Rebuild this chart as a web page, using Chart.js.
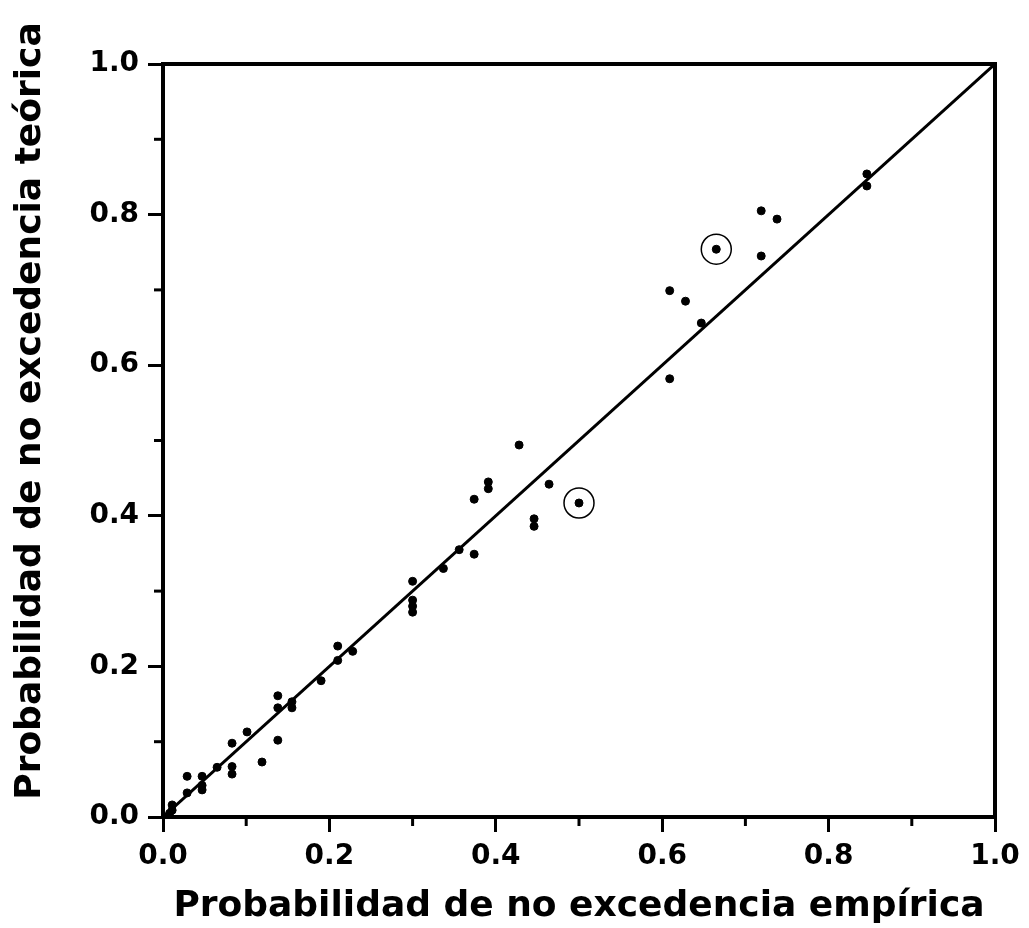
<!DOCTYPE html>
<html>
<head>
<meta charset="utf-8">
<script src="https://cdn.jsdelivr.net/npm/chart.js@4/dist/chart.umd.min.js"></script>
<style>
  html, body { margin: 0; padding: 0; background: #fff; }
  #wrap { width: 1029px; height: 928px; }
</style>
</head>
<body>
<div id="wrap"><canvas id="qqChart" width="1029" height="928"></canvas></div>
<script>
// empirical vs theoretical non-exceedance probability
var empirica = [0.008, 0.011, 0.011, 0.029, 0.029, 0.047, 0.047, 0.047, 0.065, 0.083, 0.083, 0.083,
                0.101, 0.119, 0.138, 0.138, 0.138, 0.155, 0.155, 0.190, 0.210, 0.210, 0.228,
                0.300, 0.300, 0.300, 0.300, 0.337, 0.356, 0.374, 0.374, 0.391, 0.391, 0.428,
                0.446, 0.446, 0.464, 0.500, 0.609, 0.609, 0.628, 0.647, 0.665, 0.719, 0.719,
                0.738, 0.846, 0.846];
var teorica  = [0.005, 0.009, 0.016, 0.032, 0.054, 0.036, 0.042, 0.054, 0.066, 0.057, 0.067, 0.098,
                0.113, 0.073, 0.102, 0.145, 0.161, 0.145, 0.153, 0.181, 0.208, 0.227, 0.220,
                0.272, 0.280, 0.288, 0.313, 0.330, 0.355, 0.349, 0.422, 0.436, 0.445, 0.494,
                0.386, 0.396, 0.442, 0.417, 0.582, 0.699, 0.685, 0.656, 0.754, 0.745, 0.805,
                0.794, 0.838, 0.854];
// the two points marked with a ring
var marcadosX = [0.500, 0.665];
var marcadosY = [0.417, 0.754];
var lineaX = [0, 1];
var lineaY = [0, 1];
var tickLabels = ["0.0", "0.2", "0.4", "0.6", "0.8", "1.0"];

function pares(xs, ys) {
  return xs.map(function (x, i) { return { x: x, y: ys[i] }; });
}

var fuente = "'DejaVu Sans', Verdana, sans-serif";
var tituloY = "Probabilidad de no excedencia teórica";

function esMayor(v) {
  return Math.abs(Math.round(v * 10) % 2) === 0;
}

// box frame, minor ticks and the y title
var marco = {
  id: "marco",
  afterDraw: function (chart) {
    var ctx = chart.ctx;
    var a = chart.chartArea;
    ctx.save();
    ctx.strokeStyle = "#000";
    ctx.lineWidth = 4;
    ctx.strokeRect(a.left, a.top, a.right - a.left, a.bottom - a.top);
    // minor ticks
    ctx.lineWidth = 3;
    var xs = chart.scales.x, ys = chart.scales.y;
    for (var i = 1; i < 10; i += 2) {
      var px = xs.getPixelForValue(i / 10);
      ctx.beginPath(); ctx.moveTo(px, a.bottom); ctx.lineTo(px, a.bottom + 9); ctx.stroke();
      var py = ys.getPixelForValue(i / 10);
      ctx.beginPath(); ctx.moveTo(a.left, py); ctx.lineTo(a.left - 9, py); ctx.stroke();
    }
    ctx.translate(31, 411);
    ctx.rotate(-Math.PI / 2);
    ctx.fillStyle = "#000";
    ctx.font = "bold 36px " + fuente;
    ctx.textAlign = "center";
    ctx.textBaseline = "middle";
    ctx.fillText(tituloY, 0, 0);
    ctx.restore();
  }
};

var ctx = document.getElementById("qqChart").getContext("2d");
var grafico = new Chart(ctx, {
  type: "scatter",
  data: {
    datasets: [
      {
        type: "line",
        data: pares(lineaX, lineaY),
        borderColor: "#000",
        borderWidth: 3,
        pointRadius: 0,
        fill: false
      },
      {
        data: pares(empirica, teorica),
        backgroundColor: "#000",
        borderColor: "#000",
        pointRadius: 4
      },
      {
        data: pares(marcadosX, marcadosY),
        backgroundColor: "rgba(0,0,0,0)",
        borderColor: "#000",
        borderWidth: 1.5,
        pointRadius: 15
      }
    ]
  },
  options: {
    responsive: false,
    animation: false,
    layout: { padding: { top: 64, right: 34, left: 0, bottom: 0 } },
    plugins: { legend: { display: false }, tooltip: { enabled: false } },
    scales: {
      x: {
        type: "linear",
        min: 0, max: 1,
        grid: {
          drawOnChartArea: false, drawTicks: true, tickLength: 15, tickWidth: 3,
          tickColor: function (c) { return esMayor(c.tick.value) ? "#000" : "rgba(0,0,0,0)"; }
        },
        border: { display: true, color: "#000", width: 4 },
        ticks: {
          stepSize: 0.1, color: "#000", padding: 8,
          font: { family: fuente, size: 28, weight: "bold" },
          callback: function (v) { return esMayor(v) ? tickLabels[Math.round(v * 5)] : ""; }
        },
        title: {
          display: true, text: "Probabilidad de no excedencia empírica", color: "#000",
          font: { family: fuente, size: 36, weight: "bold" }, padding: { top: 4, bottom: 0 }
        },
        afterFit: function (s) { s.height = 928 - 817; }
      },
      y: {
        type: "linear",
        min: 0, max: 1,
        grid: {
          drawOnChartArea: false, drawTicks: true, tickLength: 15, tickWidth: 3,
          tickColor: function (c) { return esMayor(c.tick.value) ? "#000" : "rgba(0,0,0,0)"; }
        },
        border: { display: true, color: "#000", width: 4 },
        ticks: {
          stepSize: 0.1, color: "#000", padding: 9,
          font: { family: fuente, size: 28, weight: "bold" },
          callback: function (v) { return esMayor(v) ? tickLabels[Math.round(v * 5)] : ""; }
        },
        afterFit: function (s) { s.width = 163; }
      }
    }
  },
  plugins: [marco]
});
</script>
</body>
</html>
